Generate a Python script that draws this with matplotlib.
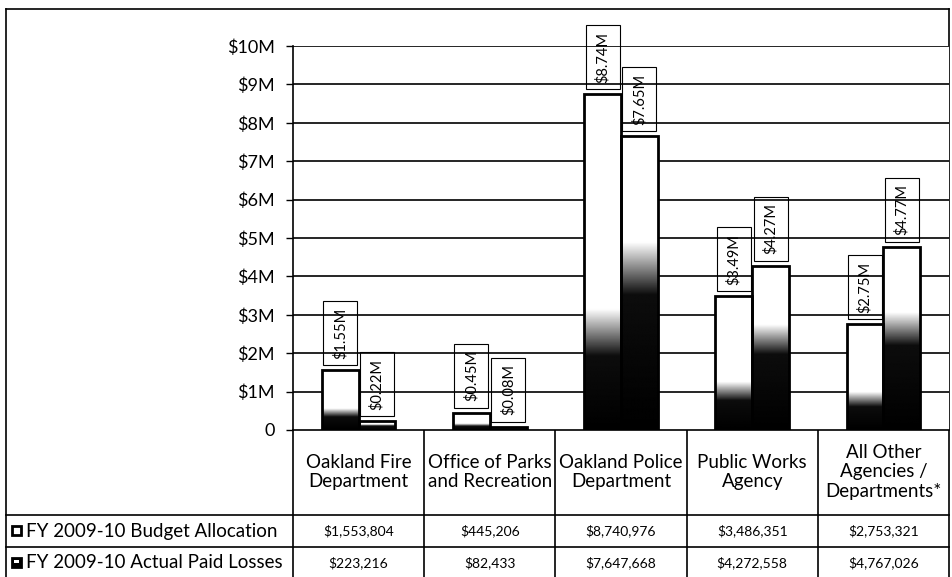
import numpy as np
import matplotlib
matplotlib.use("Agg")
import matplotlib.pyplot as plt
import matplotlib.transforms as mtransforms
from matplotlib.patches import Rectangle

plt.rcParams['font.family'] = ['Lato', 'DejaVu Sans']

# data (dollars)
departments = ['Oakland Fire\nDepartment', 'Office of Parks\nand Recreation',
               'Oakland Police\nDepartment', 'Public Works\nAgency',
               'All Other\nAgencies /\nDepartments*']
budget = [1553804, 445206, 8740976, 3486351, 2753321]
actual = [223216, 82433, 7647668, 4272558, 4767026]
series_names = ['FY 2009-10 Budget Allocation', 'FY 2009-10 Actual Paid Losses']
yticks = list(range(0, 11))

W, H = 952, 577
fig = plt.figure(figsize=(W / 100, H / 100), dpi=100)

# plot area in pixels
left_px, right_px, top_px, base_px = 293, 949, 46, 430
ax = fig.add_axes([left_px / W, (H - base_px) / H,
                   (right_px - left_px) / W, (base_px - top_px) / H])

x = np.arange(len(departments))
bw = 0.28


def grad_bar(xc, h, lo, hi):
    rect = Rectangle((xc - bw / 2, 0), bw, h, facecolor='none',
                     edgecolor='black', lw=2, zorder=4)
    ax.add_patch(rect)
    f = np.linspace(0, 1, 300)
    vals = np.interp(f, [0, lo, hi, 1], [0, 0.05, 1, 1])
    im = ax.imshow(vals[:, None], cmap='gray', vmin=0, vmax=1, origin='lower',
                   extent=[xc - bw / 2, xc + bw / 2, 0, h], aspect='auto',
                   zorder=3, interpolation='bilinear')
    im.set_clip_path(rect)


def label_box(xc, v):
    tr = fig.dpi_scale_trans + mtransforms.ScaledTranslation(xc, v, ax.transData)
    bw_in, bh_in, gap = 0.34, 0.64, 0.05
    ax.add_patch(Rectangle((-bw_in / 2, gap), bw_in, bh_in, transform=tr,
                           facecolor='none', edgecolor='black', lw=0.8,
                           clip_on=False, zorder=5))
    ax.text(0, gap + bh_in / 2, '${:.2f}M'.format(v), transform=tr,
            rotation=90, ha='center', va='center', fontsize=10.5,
            clip_on=False, zorder=6)


b_m = [v / 1e6 for v in budget]
a_m = [v / 1e6 for v in actual]
for i in range(len(departments)):
    grad_bar(x[i] - bw / 2, b_m[i], 0.22, 0.36)
    grad_bar(x[i] + bw / 2, a_m[i], 0.46, 0.64)
    label_box(x[i] - bw / 2, b_m[i])
    label_box(x[i] + bw / 2, a_m[i])

ax.set_xlim(-0.5, len(departments) - 0.5)
ax.set_ylim(0, 10)
ax.set_yticks(yticks)
ax.set_yticklabels(['${}M'.format(t) if t else '0' for t in yticks], fontsize=13)
ax.set_xticks([])
ax.yaxis.grid(True, color='black', lw=1.2)
ax.set_axisbelow(True)
ax.tick_params(axis='y', length=5, width=1, color='black', pad=8)
for s in ['top', 'right', 'bottom']:
    ax.spines[s].set_visible(False)
ax.spines['left'].set_linewidth(1.2)

# table / frame overlay in pixel coords
tab = fig.add_axes([0, 0, 1, 1], zorder=-1)
tab.set_xlim(0, W)
tab.set_ylim(H, 0)
tab.axis('off')

lk = dict(color='black', lw=1.2)
tab.plot([6, right_px], [9, 9], **lk)
tab.plot([6, 6], [9, H], **lk)
tab.plot([right_px, right_px], [9, H], **lk)
tab.plot([left_px, right_px], [base_px, base_px], **lk)
tab.plot([6, right_px], [515, 515], **lk)
tab.plot([6, right_px], [547, 547], **lk)
colw = (right_px - left_px) / len(departments)
for k in range(len(departments)):
    xe = left_px + k * colw
    tab.plot([xe, xe], [base_px, H], **lk)

for k, name in enumerate(departments):
    xc = left_px + (k + 0.5) * colw
    tab.text(xc, 472, name, ha='center', va='center', fontsize=13.5,
             linespacing=1.2)
    tab.text(xc, 531, '${:,}'.format(budget[k]), ha='center', va='center',
             fontsize=10)
    tab.text(xc, 563, '${:,}'.format(actual[k]), ha='center', va='center',
             fontsize=10)

# legend keys
tab.add_patch(Rectangle((12, 526), 9, 9, facecolor='white',
                        edgecolor='black', lw=2))
tab.add_patch(Rectangle((12, 558), 9, 9, facecolor='black',
                        edgecolor='black', lw=2))
tab.add_patch(Rectangle((14, 560), 5, 3, facecolor='white', lw=0))
tab.text(26, 531, series_names[0], ha='left', va='center', fontsize=13.5)
tab.text(26, 563, series_names[1], ha='left', va='center', fontsize=13.5)

fig.savefig('out.png', dpi=100)
